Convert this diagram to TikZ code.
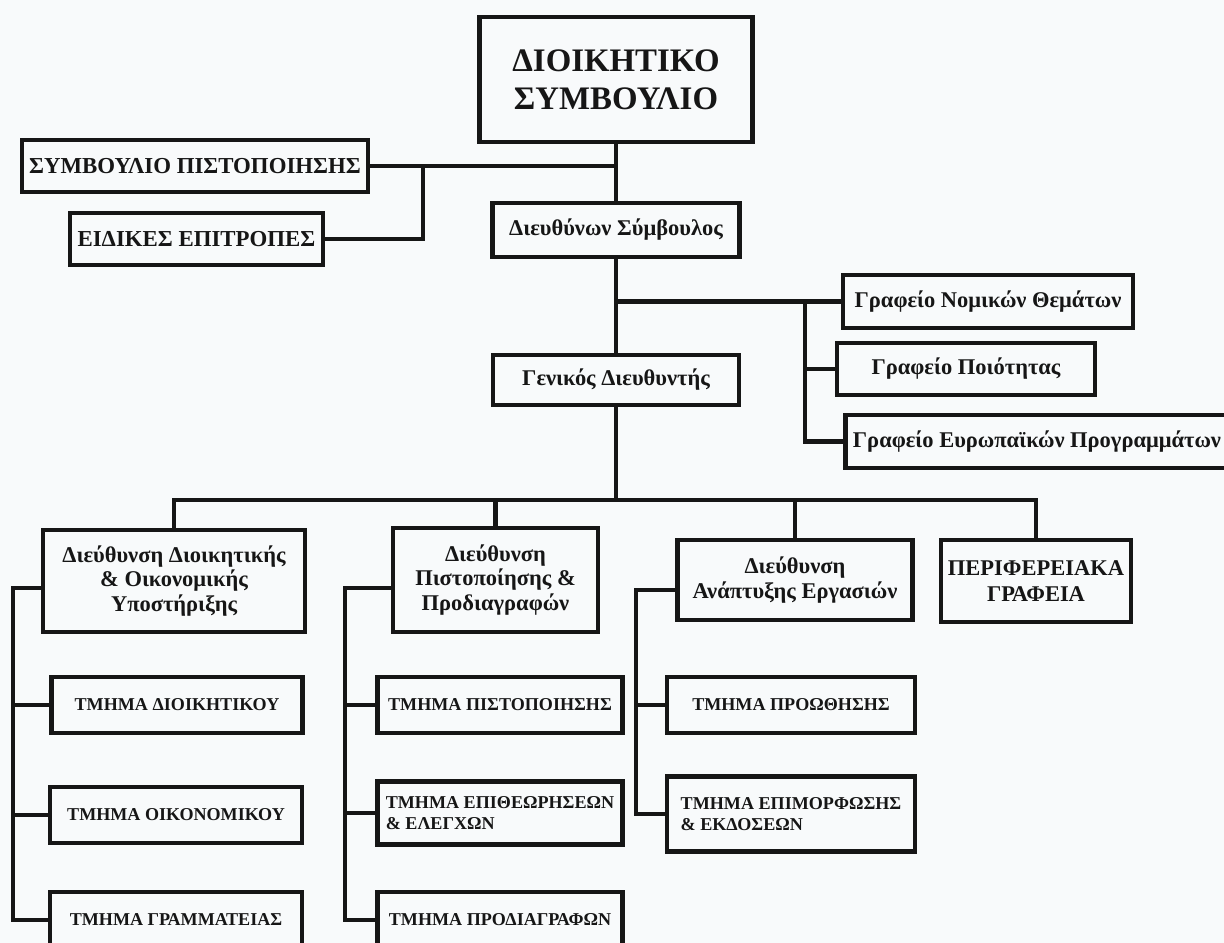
\documentclass[tikz,border=0pt]{standalone}
\usepackage{fontspec}
\setmainfont{Liberation Serif}
\definecolor{paper}{RGB}{248,250,251}
\definecolor{ink}{RGB}{22,22,22}
\begin{document}
\begin{tikzpicture}[x=0.02cm,y=-0.02cm,
  wd/.style={minimum width=#1*0.02cm},
  ht/.style={minimum height=#1*0.02cm},
  unit/.style={draw=ink,line width=2.8pt,text=ink,inner sep=2pt,font=\bfseries},
  board/.style={unit,font=\bfseries\fontsize{18.7}{21.5}\selectfont,align=center},
  capsbox/.style={unit,font=\bfseries\fontsize{13}{15}\selectfont},
  headbox/.style={unit,font=\bfseries\fontsize{12.8}{15}\selectfont,align=center},
  dirbox/.style={unit,font=\bfseries\fontsize{12.8}{14.2}\selectfont,align=center},
  deptbox/.style={unit,font=\bfseries\fontsize{10.3}{11.5}\selectfont,align=left},
  link/.style={draw=ink,line width=2.7pt}]

\useasboundingbox (0,0) rectangle (1224,943);
\fill[paper] (0,0) rectangle (1224,943);

%Board
\node[board,wd=273,ht=125] (board) at (616,79.5){ΔΙΟΙΚΗΤΙΚΟ\\ΣΥΜΒΟΥΛΙΟ};

%Left of board
\node[capsbox,wd=346,ht=52] (cert) at (195,166){ΣΥΜΒΟΥΛΙΟ ΠΙΣΤΟΠΟΙΗΣΗΣ};
\node[capsbox,wd=253,ht=52] (comm) at (196.5,239){ΕΙΔΙΚΕΣ ΕΠΙΤΡΟΠΕΣ};

%Managing director
\node[headbox,wd=247,ht=54] (ceo) at (616,230){Διευθύνων Σύμβουλος};

%Offices
\node[headbox,wd=290,ht=53] (legal) at (988,301.5){Γραφείο Νομικών Θεμάτων};
\node[headbox,wd=258,ht=52] (qual) at (966,369){Γραφείο Ποιότητας};
\node[headbox,wd=383,ht=53,anchor=west] (euro) at (843,441.5){Γραφείο Ευρωπαϊκών Προγραμμάτων};

%General director
\node[headbox,wd=246,ht=50] (gm) at (616,380){Γενικός Διευθυντής};

%Directorates
\node[dirbox,wd=262,ht=102] (dadm) at (174,581){Διεύθυνση Διοικητικής\\\& Οικονομικής\\Υποστήριξης};
\node[dirbox,wd=205,ht=104] (dcert) at (495.5,580){Διεύθυνση\\Πιστοποίησης \&\\Προδιαγραφών};
\node[dirbox,wd=235,ht=80] (ddev) at (795,580){Διεύθυνση\\Ανάπτυξης Εργασιών};
\node[dirbox,font=\bfseries\fontsize{12.8}{15}\selectfont,wd=190,ht=82] (reg) at (1036,581){ΠΕΡΙΦΕΡΕΙΑΚΑ\\ΓΡΑΦΕΙΑ};

%Departments 1
\node[deptbox,wd=251,ht=56] (adm1) at (177,705){ΤΜΗΜΑ ΔΙΟΙΚΗΤΙΚΟΥ};
\node[deptbox,wd=252,ht=56] (adm2) at (176,815){ΤΜΗΜΑ ΟΙΚΟΝΟΜΙΚΟΥ};
\node[deptbox,wd=252,ht=56] (adm3) at (176,920){ΤΜΗΜΑ ΓΡΑΜΜΑΤΕΙΑΣ};

%Departments 2
\node[deptbox,wd=245,ht=56] (cer1) at (500,705){ΤΜΗΜΑ ΠΙΣΤΟΠΟΙΗΣΗΣ};
\node[deptbox,wd=245,ht=63] (cer2) at (500,813){ΤΜΗΜΑ ΕΠΙΘΕΩΡΗΣΕΩΝ\\\& ΕΛΕΓΧΩΝ};
\node[deptbox,wd=245,ht=56] (cer3) at (500,920){ΤΜΗΜΑ ΠΡΟΔΙΑΓΡΑΦΩΝ};

%Departments 3
\node[deptbox,wd=248,ht=56] (dev1) at (791,705){ΤΜΗΜΑ ΠΡΟΩΘΗΣΗΣ};
\node[deptbox,wd=248,ht=75] (dev2) at (791,814){ΤΜΗΜΑ ΕΠΙΜΟΡΦΩΣΗΣ\\\& ΕΚΔΟΣΕΩΝ};

%Junctions
\coordinate (bj) at (423,166);
\coordinate (oj) at (805,301.5);
\coordinate (bus) at (616,500);
\coordinate (aj) at (13,588);
\coordinate (cj) at (345,588);
\coordinate (dj) at (636,590);

%Top links
\draw[link] (board.south) -- (ceo.north);
\draw[link] (cert.east) -- (cert.east -| board.south);
\draw[link] (comm.east) -| (bj);
\draw[link] (ceo.south) -- (gm.north);
\draw[link] (legal.west) -- (legal.west -| ceo.south);
\draw[link] (oj) |- (euro.west);
\draw[link] (qual.west) -- (qual.west -| oj);

%Bus
\draw[link] (gm.south) -- (bus);
\draw[link] (bus) -| (dadm.north);
\draw[link] (bus) -| (dcert.north);
\draw[link] (bus) -| (ddev.north);
\draw[link] (bus) -| (reg.north);

%Department links
\draw[link] (aj -| dadm.west) -- (aj) |- (adm3.west);
\draw[link] (adm1.west) -- (adm1.west -| aj);
\draw[link] (adm2.west) -- (adm2.west -| aj);
\draw[link] (cj -| dcert.west) -- (cj) |- (cer3.west);
\draw[link] (cer1.west) -- (cer1.west -| cj);
\draw[link] (cer2.west) -- (cer2.west -| cj);
\draw[link] (dj -| ddev.west) -- (dj) |- (dev2.west);
\draw[link] (dev1.west) -- (dev1.west -| dj);

\end{tikzpicture}
\end{document}
